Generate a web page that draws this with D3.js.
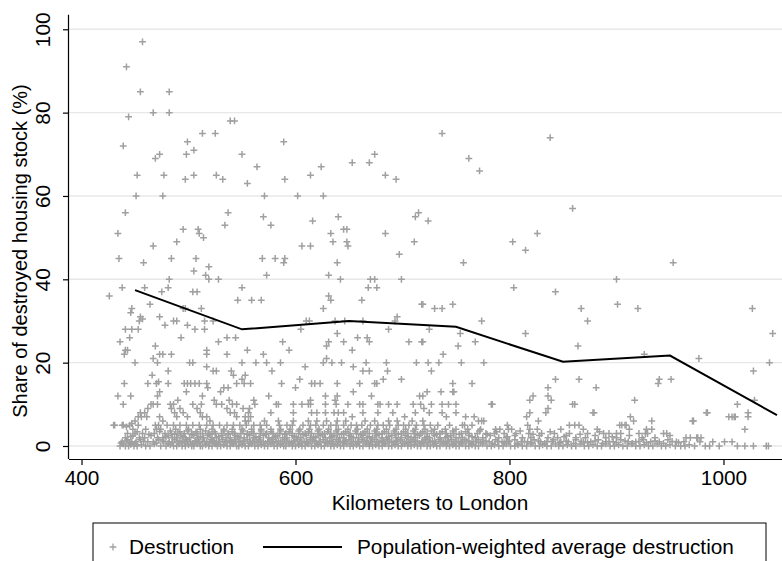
<!DOCTYPE html>
<html>
<head>
<meta charset="utf-8">
<script src="https://cdn.jsdelivr.net/npm/d3@7"></script>
<style>
  html, body { margin: 0; padding: 0; background: #fff; }
  svg { display: block; font-family: "Liberation Sans", Arial, sans-serif; }
</style>
</head>
<body>
<svg id="chart" width="782" height="561"></svg>
<script>
// Scattered cities: [kilometers to London, share of destroyed housing stock (%)]
const destructionUpper = [
  [457,97],[442,91],[455,85],[482,85],[444,79],[467,80],[482,80],[539,78],[543,78],[513,75],[525,75],
  [499,73],[505,71],[498,70],[439,72],[469,69],[473,70],[550,70],[452,65],[477,65],[497,64],[505,65],
  [526,65],[532,64],[555,63],[451,60],[476,60],[441,56],[537,56],[534,53],[495,52],[509,52],[510,51],
  [514,50],[434,51],[467,48],[489,49],[435,45],[458,44],[484,45],[507,45],[505,42],[519,43],[516,41],
  [519,40],[528,40],[438,38],[426,36],[459,38],[482,40],[475,37],[481,38],[504,37],[508,37],[550,38],
  [546,35],[464,34],[447,33],[446,32],[455,31],[457,30.5],[454,30],[495,33],[497,33],[512,33],[473,31],
  [486,30],[489,30],[478,29],[499,29],[515,30],[523,30],[441,28],[447,28],[453,28],[506,28],[515,28],
  [445,26],[493,26],[436,25],[441,23],[443,23],[440,22],[469,24],[467,21],[473,22],[476,22],[484,22],
  [517,23],[517,22],[528,25],[536,26],[544,26],[536,22],[555,23],[450,20],[501,20],[504,20],[517,19],
  [471,20],[550,20],
  [589,73],[564,67],[624,67],[590,64],[614,65],[653,68],[669,68],[674,70],[684,65],[694,64],[571,60],
  [602,60],[626,60],[570,55],[640,55],[712,55],[715,56],[737,75],[762,69],[772,66],[838,74],[859,57],
  [577,53],[616,54],[633,51],[635,49],[645,52],[648,52],[648,49],[649,48],[606,48],[614,48],[684,51],
  [711,49],[569,45],[581,45],[589,44],[590,45],[697,46],[639,44],[573,41],[631,41],[642,40],[670,40],
  [674,40],[699,40],[668,38],[676,38],[559,35],[568,35],[631,36],[633,35],[626,33],[662,35],[718,34],
  [695,31],[693,30],[687,28],[610,30],[613,30],[605,28],[637,30],[646,30],[663,30],[639,27],[658,26],
  [667,26],[669,25],[631,25],[629,24],[645,25],[706,25],[718,25],[588,25],[594,23],[570,22],[653,23],
  [629,21],[626,20],[634,20],[643,20],[563,20],[573,20],[586,20],[666,20],[685,20],[713,20],
  [724,54],[803,49],[815,47],[826,51],[757,44],[804,38],[843,37],[719,34],[730,33],[737,33],[747,34],
  [774,30],[867,33],[873,30],[725,28],[754,27],[719,25],[752,24],[768,25],[815,27],[864,24],[738,22],
  [724,20],[734,20],[755,20],[776,20],
  [953,44],[900,40],[901,34],[920,33],[1027,33],[1046,27],[926,22],[977,21],[1043,20]
];

// Cities with low destruction (below 20 %)
const destructionLower = [
  [466,17],[481,18],[440,15],[462,15],[470,15],[472,15.4],[481,15],[496,15],[499,15],[502,15],[506,15],
  [510,15],[517,15],[518,14],[523,18],[526,18],[540,18],[542,17],[545,15],[550,16],[552,15],[498,13],
  [533,14],[537,14],[530,13],[434,12],[446,12],[439,10],[471,12],[473,13],[486,10],[490,11],[513,12],
  [512,10],[524,11],[526,10],[531,10],[538,11],[541,10],[545,10],[465,10],[467,10],[471,10],[462,9],
  [459,8],[461,7],[456,7],[431,5],[439,5],[445,5],[447,5.4],[442,4.6],[455,8],[453,7],[450,6],[453,5],
  [483,10],[484,9],[487,8],[489,7],[492,9],[495,8],[499,7],[504,10],[508,9],[511,8],[513,7],[517,7],
  [520,6],[473,7],[476,6],[472,5],[470,4],[536,9],[539,8],[543,8],[545,7],[551,9],[553,7],[556,6],
  [654,19],[663,18],[669,18],[686,18],[578,18],[609,19],[604,16],[600,14],[615,15],[618,15],[623,15],
  [639,15],[660,15],[674,15],[676,15],[682,16],[699,16],[558,15],[587,15],[553,17],[654,13],[671,12],
  [628,12],[639,12],[637,11],[614,11],[612,10],[575,12],[716,12],[561,11],[562,10],[557,9],[582,10],
  [584,10],[598,10],[606,10],[614,10],[628,10],[638,10],[649,10],[660,10],[663,10],[677,10],[679,10],
  [687,10],[695,10],[710,10],[717,10],
  [556,8],[577,8],[598,8],[615,8],[620,8],[628,8],[636,8],[640,8],[645,8],[653,7],[663,8],[677,8],
  [691,8],[702,7],[712,8],
  [553,6],[558,7],[571,6],[584,6],[598,6],[612,6],[620,6],[629,6],[639,6],[647,6],[665,6],[674,6],
  [687,6],[695,6],[709,6],[719,6],
  [727,18],[747,15],[765,15],[843,16],[865,16],[719,12],[736,13],[747,13],[723,13],[748,13],[836,14],
  [836,12],[839,11],[822,12],[819,11],[881,14],[727,10],[737,10],[743,10],[750,10],[784,10],[859,10],
  [861,10],[720,9],[725,8],[737,8],[741,7],[750,8],[759,7],[767,7],[765,5],[771,6],[776,6],[819,8],
  [816,7],[827,6],[834,8],[836,9],[878,8],[791,4],[798,5],[799,4],[856,5],[861,5],[865,5],[869,4],
  [873,3],[882,4],[783,10],[774,6],[756,5],[758,5],[817,5],[819,4],
  [1028,18],[940,16],[939,15],[951,16],[917,11],[1029,11],[1013,10],[879,8],[913,7],[985,8],[1023,8],
  [1023,7],[1005,7],[1010,7],[971,6],[933,6],[905,5],[909,5],[912,4],[933,4],[1020,4],[888,3],[893,3],
  [900,3],[904,3],[921,3],[927,3],[929,3],[944,3],[969,2],[976,2],[979,2],[990,1],[1001,1],[1008,1],
  [987,0],[996,0],[1013,0],[1020,0],[1028,0],[1040,0],[1042,0],[916,6],[903,5],[908,5],[928,4],
  [947,3],[972,6],[984,8],[1008,7],[1011,7],[965,2],[975,2],[978,1],[983,0],
  [430,5],[438,5],[469,5],[480,5],[486,5],[492,5],[498,5],[504,5],[510,5],[517,5],[523,5],[529,5],
  [536,5],[542,5],[548,5],[554,5],[561,5],[567,5],[573,5],[585,5],[592,5],[597,5],[607,5],[614,5],
  [619,5],[626,5],[633,5],[638,5],[645,5],[652,5],[657,5],[662,5],[670,5],[677,5],[682,5],[688,5],
  [696,5],[701,5],[706,5],[713,5],[720,5],[726,5],[733,5],[744,5]
];

// Densely packed cities with almost no destruction (0-4 %)
const destructionNearZero = [
  [436,0],[439,0.5],[441,0],[444,0],[446,0.4],[449,0],[452,0],[456,0.3],[460,0],[464,0],[468,0.5],
  [474,0],[479,0],[483,0.3],[486,0],[489,0],[491,0.5],[494,0],[497,0],[500,0.3],[503,0],[505,0],
  [508,0.5],[511,0],[513,0],[516,0.3],[519,0],[522,0],[525,0.5],[527,0],[530,0],[533,0.3],[536,0],
  [539,0],[542,0.5],[545,0],[547,0],[550,0.3],[553,0],[556,0],[559,0.5],[562,0],[565,0],[568,0.3],
  [571,0],[574,0],[577,0.5],[580,0],[583,0],[586,0.3],[589,0],[591,0],[594,0.5],[597,0],[600,0],
  [603,0.3],[606,0],[609,0],[612,0.5],[615,0],[618,0],[621,0.3],[624,0],[627,0],[630,0.5],[633,0],
  [636,0],[639,0.3],[642,0],[645,0],[648,0.5],[651,0],[654,0],[657,0.3],[660,0],[663,0],[666,0.5],
  [669,0],[672,0],[675,0.3],[678,0],[681,0],[684,0.5],[687,0],[690,0],[693,0.3],[696,0],[699,0],
  [702,0.5],[705,0],[708,0],[711,0.3],[714,0],[717,0],[720,0.5],[723,0],[726,0],[729,0.3],[732,0],
  [735,0],[738,0.5],[741,0],[744,0],[747,0.3],[750,0],[753,0],[756,0.5],[759,0],[762,0],[765,0.3],
  [768,0],[771,0],[775,0.5],[779,0],[783,0],[786,0.3],[790,0],[794,0],[797,0.5],[801,0],[805,0],
  [808,0.3],[812,0],[816,0],[820,0.5],[824,0],[828,0],[831,0.3],[835,0],[839,0],[843,0.5],[846,0],
  [850,0],[854,0.3],[858,0],[862,0],[866,0.5],[870,0],[874,0],[878,0.3],[882,0],[886,0],[890,0.5],
  [894,0],[898,0],[902,0.3],[906,0],[910,0],[914,0.5],[918,0],[922,0],[926,0.3],[930,0],[934,0],
  [938,0.5],[942,0],[946,0],[950,0.3],[955,0],[960,0],[964,0],[968,0.3],[973,0],
  [438,1],[443,1.5],[447,1],[451,1],[455,1.5],[462,1],[467,1],[472,1.5],[477,1],[482,1],[487,1.5],
  [490,1],[494,1],[498,1.5],[502,1],[506,1],[509,1.5],[513,1],[517,1],[521,1.5],[524,1],[528,1],
  [532,1.5],[536,1],[540,1],[543,1.5],[547,1],[551,1],[555,1.5],[558,1],[562,1],[566,1.5],[570,1],
  [574,1],[578,1.5],[582,1],[586,1],[590,1.5],[594,1],[598,1],[602,1.5],[606,1],[610,1],[614,1.5],
  [618,1],[622,1],[626,1.5],[630,1],[634,1],[638,1.5],[642,1],[646,1],[650,1.5],[654,1],[658,1],
  [662,1.5],[666,1],[670,1],[674,1.5],[678,1],[682,1],[686,1.5],[690,1],[694,1],[698,1.5],[702,1],
  [706,1],[710,1.5],[714,1],[718,1],[722,1.5],[726,1],[730,1],[734,1.5],[738,1],[742,1],[746,1.5],
  [750,1],[754,1],[758,1.5],[762,1],[766,1],[771,1.5],[776,1],[781,1],[787,1.5],[793,1],[799,1],
  [805,1.5],[811,1],[817,1],[823,1.5],[829,1],[835,1],[841,1.5],[848,1],[855,1],[862,1.5],[869,1],
  [876,1],[883,1.5],[890,1],[897,1],[904,1.5],[911,1],[918,1],[925,1.5],[932,1],[940,1],[948,1.5],
  [956,1],[963,1],
  [441,2],[448,2.5],[454,2],[459,2],[465,2.5],[471,2],[476,2],[481,2.5],[485,2],[489,2],[493,2.5],
  [497,2],[501,2],[505,2.5],[509,2],[514,2],[518,2.5],[522,2],[526,2],[531,2.5],[535,2],[539,2],
  [544,2.5],[548,2],[552,2],[557,2.5],[561,2],[566,2],[570,2.5],[575,2],[579,2],[583,2.5],[588,2],
  [592,2],[597,2.5],[601,2],[605,2],[610,2.5],[614,2],[619,2],[623,2.5],[628,2],[632,2],[636,2.5],
  [641,2],[645,2],[650,2.5],[654,2],[659,2],[663,2.5],[667,2],[672,2],[676,2.5],[681,2],[685,2],
  [690,2.5],[694,2],[699,2],[703,2.5],[708,2],[712,2],[716,2.5],[721,2],[725,2],[730,2.5],[735,2],
  [740,2],[745,2.5],[750,2],[756,2],[762,2.5],[768,2],[775,2],[782,2.5],[790,2],[797,2],[805,2.5],
  [812,2],[820,2],[828,2.5],[836,2],[845,2],[853,2.5],[862,2],[871,2],[880,2.5],[890,2],[900,2],
  [912,2.5],[924,2],[936,2],[950,2.5],
  [443,3],[450,3],[457,3],[468,3],[478,3],[484,3],[490,3],[496,3],[503,3],[508,3],[513,3],[519,3],
  [525,3],[531,3],[537,3],[543,3],[549,3],[555,3],[561,3],[567,3],[573,3],[579,3],[585,3],[591,3],
  [597,3],[603,3],[609,3],[615,3],[621,3],[627,3],[633,3],[639,3],[645,3],[651,3],[657,3],[663,3],
  [669,3],[675,3],[681,3],[687,3],[693,3],[699,3],[705,3],[711,3],[717,3],[723,3],[729,3],[735,3],
  [741,3],[748,3],[755,3],[762,3],[770,3],[778,3],[786,3],[795,3],[806,3],[818,3],[830,3],[842,3],
  [856,3],
  [448,4],[460,4],[474,4],[488,4],[500,4],[511,4],[522,4],[533,4],[541,4],[550,4],[559,4],[568,4],
  [577,4],[586,4],[595,4],[604,4],[613,4],[622,4],[631,4],[640,4],[649,4],[658,4],[667,4],[676,4],
  [685,4],[694,4],[703,4],[712,4],[721,4],[730,4],[740,4],[750,4],[761,4],[773,4],[787,4],[802,4],
  [826,4],[848,4]
];

// Additional cities crowding the lowest band
const destructionBandExtra = [
  [437,0.7],[442,1.2],[445,0.8],[450,0.6],[458,1.1],[470,0.7],[476,1.2],[481,0.6],[485,0.9],[492,1.2],
  [496,0.7],[499,1.1],[504,0.6],[507,1.2],[510,0.8],[515,1.1],[520,0.7],[523,1.2],[526,0.6],[529,1.1],
  [534,0.8],[538,1.2],[541,0.6],[544,1.1],[549,0.8],[552,1.2],[557,0.6],[560,1.1],[564,0.8],[567,1.2],
  [572,0.6],[576,1.1],[579,0.8],[584,1.2],[588,0.6],[592,1.1],[596,0.8],[599,1.2],[604,0.6],[608,1.1],
  [611,0.8],[616,1.2],[620,0.6],[623,1.1],[628,0.8],[632,1.2],[635,0.6],[640,1.1],[644,0.8],[647,1.2],
  [652,0.6],[656,1.1],[659,0.8],[664,1.2],[668,0.6],[671,1.1],[676,0.8],[680,1.2],[683,0.6],[688,1.1],
  [692,0.8],[695,1.2],[700,0.6],[704,1.1],[707,0.8],[712,1.2],[716,0.6],[719,1.1],[724,0.8],[728,1.2],
  [731,0.6],[736,1.1],[740,0.8],[743,1.2],[748,0.6],[752,1.1],[755,0.8],[760,1.2],[764,0.6],[769,1.1],
  [773,0.8],[778,1.2],[784,0.6],[789,1.1],[795,0.8],[800,1.2],[807,0.6],[814,1.1],[821,0.8],[827,1.2],
  [833,0.6],[840,1.1],[847,0.8],[853,1.2],[860,0.6],[867,1.1],[873,0.8],[880,1.2],[887,0.6],[893,1.1],
  [900,0.8],[908,1.2],[915,0.6],[921,1.1],[928,0.8],[936,1.2],[944,0.6],[952,1.1],[958,0.8],
  [446,2.2],[452,3.4],[463,2.8],[473,3.5],[479,2.2],[483,3.6],[487,2.8],[492,3.4],[495,2.2],[499,3.6],
  [503,2.8],[507,3.4],[511,2.2],[516,3.6],[520,2.8],[524,3.4],[528,2.2],[533,3.6],[537,2.8],[541,3.4],
  [546,2.2],[551,3.6],[555,2.8],[559,3.4],[563,2.2],[568,3.6],[572,2.8],[577,3.4],[581,2.2],[586,3.6],
  [590,2.8],[594,3.4],[599,2.2],[603,3.6],[607,2.8],[612,3.4],[617,2.2],[621,3.6],[625,2.8],[630,3.4],
  [634,2.2],[638,3.6],[643,2.8],[647,3.4],[652,2.2],[656,3.6],[661,2.8],[665,3.4],[669,2.2],[674,3.6],
  [678,2.8],[683,3.4],[687,2.2],[692,3.6],[696,2.8],[701,3.4],[705,2.2],[710,3.6],[714,2.8],[719,3.4],
  [723,2.2],[727,3.6],[732,2.8],[737,3.4],[742,2.2],[747,3.6],[753,2.8],[759,3.4],[765,2.2],[772,3.6],
  [779,2.8],[788,3.4],[798,2.2],[810,3.6],[822,2.8],[838,3.4],[851,2.2],[866,2.8],[884,3.4],[896,2.2]
];

// Population-weighted average destruction by 100 km distance band
const bandCenterKm = [450, 550, 650, 750, 850, 950, 1050];
const weightedAverage = [37.4, 28.0, 30.0, 28.6, 20.2, 21.7, 7.4];

const xTicks = [400, 600, 800, 1000];
const yTicks = [0, 20, 40, 60, 80, 100];

const xTitle = "Kilometers to London";
const yTitle = "Share of destroyed housing stock (%)";
const legendLabels = ["Destruction", "Population-weighted average destruction"];

const svg = d3.select("#chart");
const W = 782, H = 561;
svg.append("rect").attr("width", W).attr("height", H).attr("fill", "#fff");

const plot = { left: 69, right: 782, top: 14.7, bottom: 459 };

const x = d3.scaleLinear().domain([388.3, 1054.7]).range([plot.left, plot.right]);
const y = d3.scaleLinear().domain([-3.12, 103.5]).range([plot.bottom, plot.top]);

const pointColor = "#a0a0a0";
const fontSize = 20.8;

// horizontal gridlines
svg.append("g")
  .selectAll("line")
  .data(yTicks)
  .join("line")
  .attr("x1", plot.left).attr("x2", plot.right)
  .attr("y1", d => y(d)).attr("y2", d => y(d))
  .attr("stroke", "#e8e8e8").attr("stroke-width", 1.4);

// scatter of plus markers
const allPoints = destructionUpper.concat(destructionLower, destructionNearZero, destructionBandExtra);
const plus = "M-3.4,0H3.4M0,-3.4V3.4";
svg.append("g")
  .selectAll("path")
  .data(allPoints)
  .join("path")
  .attr("transform", d => `translate(${x(d[0])},${y(d[1])})`)
  .attr("d", plus)
  .attr("fill", "none")
  .attr("stroke", pointColor)
  .attr("stroke-width", 1.5);

// weighted average line
const line = d3.line().x((d, i) => x(bandCenterKm[i])).y(d => y(d));
svg.append("path")
  .datum(weightedAverage)
  .attr("d", line)
  .attr("fill", "none")
  .attr("stroke", "#000")
  .attr("stroke-width", 2);

// x axis
const xAxis = d3.axisBottom(x).tickValues(xTicks).tickSize(6).tickPadding(5).tickFormat(d3.format("d"));
const gx = svg.append("g").attr("transform", `translate(0,${plot.bottom})`).call(xAxis);
gx.select(".domain").attr("d", `M${plot.left},0.5H${plot.right}`).attr("stroke", "#000").attr("stroke-width", 1.2);
gx.selectAll(".tick line").attr("stroke", "#000").attr("stroke-width", 1.2);
gx.selectAll(".tick text")
  .attr("font-family", "Liberation Sans, Arial, sans-serif")
  .attr("font-size", fontSize).attr("fill", "#000");

// y axis with rotated labels
const yAxis = d3.axisLeft(y).tickValues(yTicks).tickSize(6).tickFormat(d3.format("d"));
const gy = svg.append("g").attr("transform", `translate(${plot.left},0)`).call(yAxis);
gy.select(".domain").attr("d", `M-0.5,${plot.top}V${plot.bottom}`).attr("stroke", "#000").attr("stroke-width", 1.2);
gy.selectAll(".tick line").attr("stroke", "#000").attr("stroke-width", 1.2);
gy.selectAll(".tick text")
  .attr("font-family", "Liberation Sans, Arial, sans-serif")
  .attr("font-size", fontSize).attr("fill", "#000")
  .attr("x", null).attr("dy", null)
  .attr("text-anchor", "middle")
  .attr("transform", "translate(-19,0) rotate(-90)");

// axis titles
svg.append("text")
  .attr("x", 430).attr("y", 510)
  .attr("text-anchor", "middle")
  .attr("font-size", fontSize)
  .text(xTitle);

svg.append("text")
  .attr("transform", `translate(27,${251}) rotate(-90)`)
  .attr("text-anchor", "middle")
  .attr("font-size", 20)
  .text(yTitle);

// legend
const lg = svg.append("g");
lg.append("rect")
  .attr("x", 93).attr("y", 523).attr("width", 673).attr("height", 60)
  .attr("fill", "#fff").attr("stroke", "#000").attr("stroke-width", 1);
lg.append("path")
  .attr("transform", "translate(113,547)")
  .attr("d", plus).attr("fill", "none").attr("stroke", pointColor).attr("stroke-width", 1.3);
lg.append("text").attr("x", 129).attr("y", 554).attr("font-size", fontSize).text(legendLabels[0]);
lg.append("line").attr("x1", 263).attr("x2", 342).attr("y1", 547).attr("y2", 547)
  .attr("stroke", "#000").attr("stroke-width", 2);
lg.append("text").attr("x", 357).attr("y", 554).attr("font-size", fontSize).text(legendLabels[1]);
</script>
</body>
</html>
